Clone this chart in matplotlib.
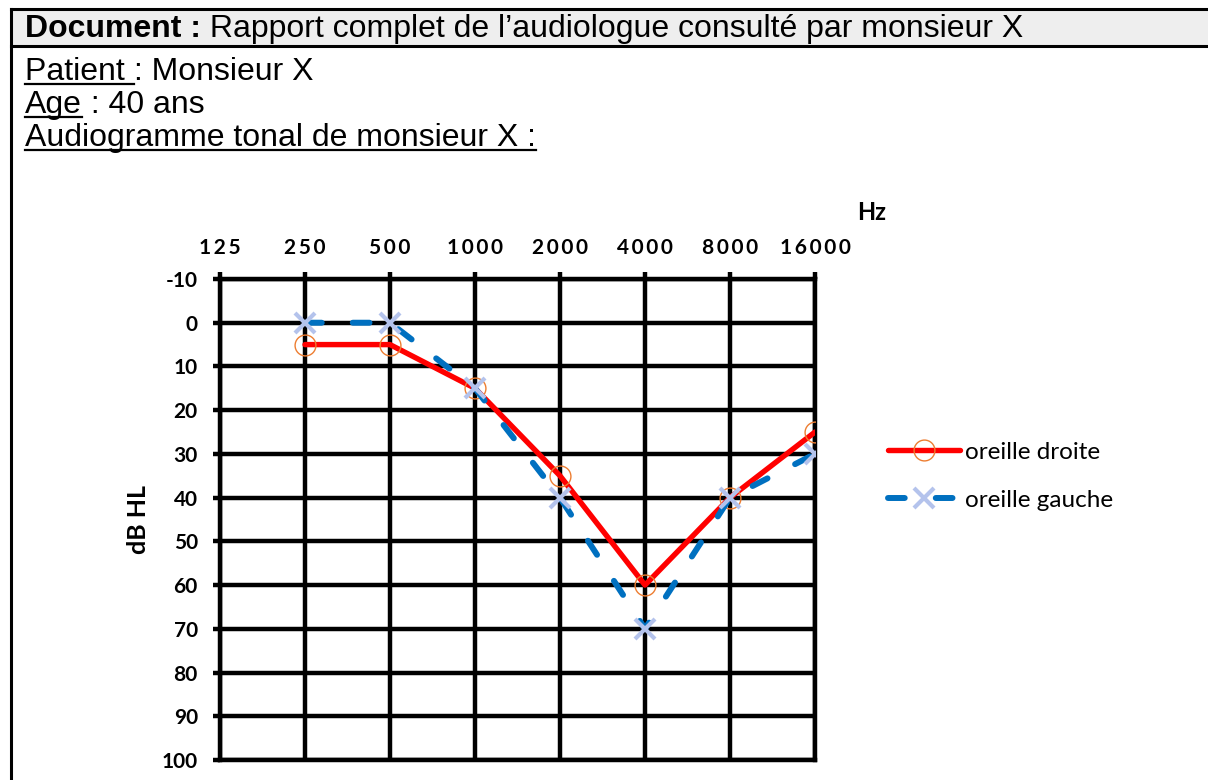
import matplotlib
matplotlib.use("Agg")
import matplotlib.pyplot as plt
from matplotlib.lines import Line2D
from matplotlib.patches import Rectangle

W, H = 1208, 780

# chart data
frequencies = ["125", "250", "500", "1000", "2000", "4000", "8000", "16000"]
db_ticks = [-10, 0, 10, 20, 30, 40, 50, 60, 70, 80, 90, 100]
ear_freqs = ["250", "500", "1000", "2000", "4000", "8000", "16000"]
right_ear_db = [5, 5, 15, 35, 60, 40, 25]
left_ear_db = [0, 0, 15, 40, 70, 40, 30]

# document text
doc_title_bold = "Document :"
doc_title_rest = " Rapport complet de l\u2019audiologue consulté par monsieur X"
info_lines = [
    ("Patient ", ": Monsieur X"),
    ("Age", " : 40 ans"),
    ("Audiogramme tonal de monsieur X :", ""),
]

DOC_FONT = "Liberation Sans"
CHART_FONT = ["Lato", "DejaVu Sans"]


def fx(px):
    return px / W


def fy(py):
    return 1 - py / H


fig = plt.figure(figsize=(W / 100, H / 100), dpi=100)
fig.patch.set_facecolor("white")

# document frame with grey header band
fig.add_artist(Rectangle((fx(11), fy(46)), 1 - fx(11), (46 - 9) / H,
                         transform=fig.transFigure, facecolor="#eeeeee",
                         edgecolor="none", zorder=0))
for xs, ys in [([11, W], [9, 9]), ([11, W], [46, 46]), ([11, 11], [9, H])]:
    fig.add_artist(Line2D([fx(x) for x in xs], [fy(y) for y in ys],
                          transform=fig.transFigure, color="black", lw=2.2))

renderer = fig.canvas.get_renderer()


def put(x, base, s, weight="normal", underline=False):
    t = fig.text(fx(x), fy(base), s, fontsize=23, family=DOC_FONT,
                 fontweight=weight, va="baseline", ha="left")
    bb = t.get_window_extent(renderer)
    if underline and s:
        uy = fy(base + 4)
        fig.add_artist(Line2D([bb.x0 / W, bb.x1 / W], [uy, uy],
                              transform=fig.transFigure, color="black", lw=1.6))
    return bb.x1


x_end = put(25, 37, doc_title_bold, weight="bold")
put(x_end, 37, doc_title_rest)

for i, (under, rest) in enumerate(info_lines):
    base = 80 + i * 33
    x_end = put(25, base, under, underline=True)
    if rest:
        put(x_end, base, rest)

# audiogram
ax = fig.add_axes([fx(220), fy(760), (815 - 220) / W, (760 - 279) / H])
ax.set_xlim(0, len(frequencies) - 1)
ax.set_ylim(100, -10)

ax.set_xticks(range(len(frequencies)))
ax.set_xticklabels(["\u2009".join(f) for f in frequencies])
ax.set_yticks(db_ticks)
ax.set_yticklabels([str(v) for v in db_ticks])
ax.xaxis.tick_top()
ax.tick_params(axis="x", length=5, width=3.2, pad=10, labelsize=15)
ax.tick_params(axis="y", length=5, width=3.2, pad=11, labelsize=15)
for lab in ax.get_xticklabels() + ax.get_yticklabels():
    lab.set_family(CHART_FONT)
    lab.set_fontweight("bold")

ax.grid(True, color="black", lw=3.2)
ax.set_axisbelow(True)
for sp in ax.spines.values():
    sp.set_linewidth(3.2)

pos = [frequencies.index(f) for f in ear_freqs]
ax.plot(pos, right_ear_db, color="#ff0000", lw=3.9, solid_capstyle="round",
        marker="o", markersize=15, markerfacecolor="none",
        markeredgecolor="#ed7d31", markeredgewidth=1.0,
        label="oreille droite", zorder=3)
blue, = ax.plot(pos, left_ear_db, color="#0070c0", lw=4.3,
                dash_capstyle="round", marker="x", markersize=15,
                markeredgecolor="#b4c3ec", markeredgewidth=3.0,
                label="oreille gauche", zorder=4)
blue.set_dashes([2.8, 5.2])

fig.text(fx(872), fy(213), "Hz", fontsize=17, family=CHART_FONT,
         fontweight="bold", ha="center", va="center")
fig.text(fx(138), fy(520), "dB HL", fontsize=18, family=CHART_FONT,
         fontweight="bold", ha="center", va="center", rotation=90)

leg = ax.legend(loc="upper left", bbox_to_anchor=(fx(866), fy(420)),
                bbox_transform=fig.transFigure, frameon=False,
                handlelength=2.95, handletextpad=0.22, labelspacing=1.1,
                prop={"family": CHART_FONT, "size": 17.5})

fig.savefig("out.png", dpi=100)
